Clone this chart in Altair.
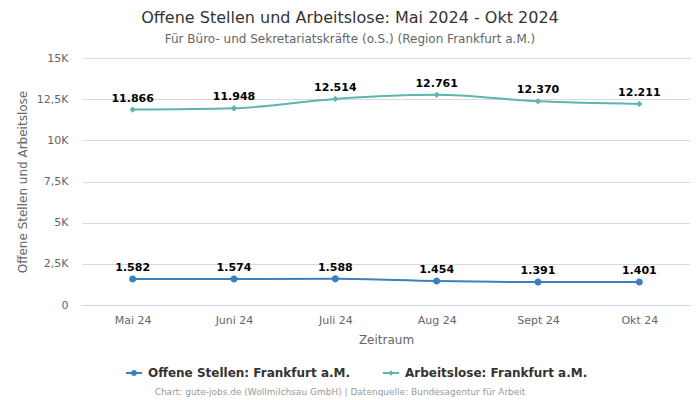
import altair as alt
import pandas as pd

months = ["Mai 24", "Juni 24", "Juli 24", "Aug 24", "Sept 24", "Okt 24"]
offene_stellen = [1582, 1574, 1588, 1454, 1391, 1401]
arbeitslose = [11866, 11948, 12514, 12761, 12370, 12211]
series = ["Offene Stellen: Frankfurt a.M.", "Arbeitslose: Frankfurt a.M."]
colors = ["#3a80c0", "#5db5ae"]
y_ticks = [0, 2500, 5000, 7500, 10000, 12500, 15000]
footer = "Chart: gute-jobs.de (Wollmilchsau GmbH) | Datenquelle: Bundesagentur für Arbeit"

rows = []
for m, v in zip(months, offene_stellen):
    rows.append({"Monat": m, "Wert": v, "Serie": series[0]})
for m, v in zip(months, arbeitslose):
    rows.append({"Monat": m, "Wert": v, "Serie": series[1]})
df = pd.DataFrame(rows)

FONT = "DejaVu Sans"
W, H = 608, 247

circle_path = "M-1,0 A1,1 0 1,1 1,0 A1,1 0 1,1 -1,0 Z"
diamond_path = "M0,-0.9 L0.9,0 L0,0.9 L-0.9,0 Z"
# legend symbols: marker + short line
leg_circle = "M-1,0 A1,1 0 1,1 1,0 A1,1 0 1,1 -1,0 Z M-2.7,-0.32 H2.7 V0.32 H-2.7 Z"
leg_diamond = "M0,-0.9 L0.9,0 L0,0.9 L-0.9,0 Z M-2.7,-0.32 H2.7 V0.32 H-2.7 Z"

x_enc = alt.X("Monat:N", sort=months, scale=alt.Scale(type="point", padding=0.5),
              axis=alt.Axis(title="Zeitraum", labelAngle=0, labelColor="#666666",
                            labelFontSize=11, labelFont=FONT, titleFont=FONT,
                            titleColor="#666666", titleFontSize=12, titleFontWeight="normal",
                            ticks=False, domainColor="#ccd6eb", domainWidth=1,
                            labelPadding=9, titlePadding=9, grid=False))
y_enc = alt.Y("Wert:Q", scale=alt.Scale(domain=[0, 15000], nice=False),
              axis=alt.Axis(title="Offene Stellen und Arbeitslose", values=y_ticks,
                            labelExpr="datum.value == 0 ? '0' : replace(format(datum.value/1000, '~g'), '.', ',') + 'K'",
                            labelColor="#666666", labelFontSize=11, labelFont=FONT,
                            titleFont=FONT, titleColor="#666666", titleFontSize=12,
                            titleFontWeight="normal", ticks=False, domain=False,
                            gridColor="#d9d9d9", labelPadding=14, titlePadding=7))
color_plain = alt.Color("Serie:N", sort=series,
                        scale=alt.Scale(domain=series, range=colors), legend=None)
shape_plain = alt.Shape("Serie:N", sort=series,
                        scale=alt.Scale(domain=series, range=[circle_path, diamond_path]),
                        legend=None)

leg = alt.Legend(title=None, orient="none", direction="horizontal",
                 legendX=46, legendY=309, labelFont=FONT,
                 labelFontSize=12, labelFontWeight="bold",
                 labelColor="#333333", symbolSize=36, labelLimit=0,
                 labelOffset=8, columnPadding=31,
                 symbolStrokeWidth=0, symbolOpacity=1)

base = alt.Chart(df)

lines = base.mark_line(interpolate="monotone", strokeWidth=2).encode(
    x=x_enc, y=y_enc, color=color_plain)

points = base.mark_point(filled=True, opacity=1, size=50, strokeWidth=0).encode(
    x=x_enc, y=y_enc, color=color_plain, shape=shape_plain)

labels = base.transform_calculate(
    lbl="replace(format(datum.Wert, ','), ',', '.')"
).mark_text(font=FONT, fontSize=11, fontWeight="bold", color="#000000", dy=-11).encode(
    x=x_enc, y=y_enc, text="lbl:N")

legend_layer = base.transform_calculate(SerieL="datum.Serie").mark_point(
    filled=True, opacity=0, size=36
).encode(
    x=x_enc, y=y_enc,
    color=alt.Color("SerieL:N", sort=series, scale=alt.Scale(domain=series, range=colors), legend=leg),
    shape=alt.Shape("SerieL:N", sort=series,
                    scale=alt.Scale(domain=series, range=[leg_circle, leg_diamond]), legend=leg),
)

foot = alt.Chart(pd.DataFrame({"t": [footer]})).mark_text(
    font=FONT, fontSize=9, color="#999999", align="center", baseline="middle"
).encode(x=alt.value(340 - 82), y=alt.value(392 - 58), text="t:N")

chart = alt.layer(lines, points, labels, legend_layer, foot).resolve_scale(
    color="independent", shape="independent"
).properties(
    width=W, height=H,
    autosize=alt.AutoSizeParams(type="none"),
    padding={"left": 74, "top": 50, "right": 2, "bottom": 92},
    title=alt.TitleParams(
        text="Offene Stellen und Arbeitslose: Mai 2024 - Okt 2024",
        subtitle="Für Büro- und Sekretariatskräfte (o.S.) (Region Frankfurt a.M.)",
        font=FONT, fontSize=16, fontWeight="normal", color="#333333",
        subtitleFont=FONT, subtitleFontSize=12, subtitleColor="#666666",
        subtitlePadding=8, anchor="middle", dx=-36, offset=7),
).configure_view(stroke=None)

chart.save("out.html", embed_options={"renderer": "svg", "actions": False})
